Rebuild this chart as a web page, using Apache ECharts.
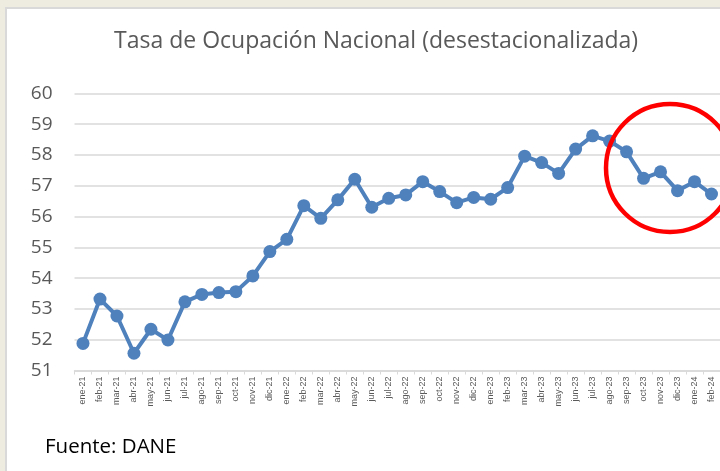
<!DOCTYPE html>
<html>
<head>
<meta charset="utf-8">
<script src="https://cdn.jsdelivr.net/npm/echarts@6/dist/echarts.min.js"></script>
<style>
  body { margin: 0; background: #eeece1; overflow: hidden; }
  #panel { position: absolute; left: 5px; top: 7px; width: 800px; height: 600px;
           background: #fff; border-left: 2px solid #d9d9d9; border-top: 2px solid #d9d9d9; }
  #main { position: absolute; left: 0; top: 0; width: 720px; height: 471px; }
</style>
</head>
<body>
<div id="panel"></div>
<div id="main"></div>
<script>
// meses (ene-21 .. feb-24)
var meses = ['ene-21','feb-21','mar-21','abr-21','may-21','jun-21','jul-21','ago-21','sep-21','oct-21','nov-21','dic-21',
             'ene-22','feb-22','mar-22','abr-22','may-22','jun-22','jul-22','ago-22','sep-22','oct-22','nov-22','dic-22',
             'ene-23','feb-23','mar-23','abr-23','may-23','jun-23','jul-23','ago-23','sep-23','oct-23','nov-23','dic-23',
             'ene-24','feb-24'];
// tasa de ocupacion desestacionalizada (%)
var tasa = [51.88, 53.32, 52.77, 51.56, 52.34, 51.99, 53.23, 53.47, 53.53, 53.56, 54.07, 54.86,
            55.26, 56.35, 55.94, 56.54, 57.21, 56.30, 56.59, 56.70, 57.13, 56.81, 56.45, 56.62,
            56.56, 56.94, 57.96, 57.75, 57.40, 58.19, 58.62, 58.45, 58.10, 57.24, 57.45, 56.84,
            57.13, 56.73];
var yMin = 51, yMax = 60;

var myChart = echarts.init(document.getElementById('main'));

var option = {
    animation: false,
    title: {
        text: 'Tasa de Ocupación Nacional (desestacionalizada)',
        left: 109,
        top: 25,
        textStyle: { fontFamily: 'Open Sans', fontSize: 23, fontWeight: 'normal', color: '#595959' }
    },
    grid: { left: 74.5, right: 0, top: 93.3, bottom: 100.5 },
    xAxis: {
        type: 'category',
        boundaryGap: true,
        data: meses,
        axisLine: { lineStyle: { color: '#d9d9d9', width: 1.5 } },
        axisTick: { show: true, length: 4, lineStyle: { color: '#d9d9d9' } },
        axisLabel: {
            interval: 0, rotate: 90, margin: 6,
            fontFamily: 'Liberation Sans', fontSize: 9, color: '#595959'
        }
    },
    yAxis: {
        type: 'value',
        min: yMin, max: yMax, interval: 1,
        axisLine: { show: false },
        axisTick: { show: false },
        splitLine: { lineStyle: { color: '#d9d9d9', width: 1.5 } },
        axisLabel: { margin: 22, fontFamily: 'Open Sans', fontSize: 19, color: '#595959' }
    },
    series: [{
        name: 'Tasa',
        type: 'line',
        data: tasa,
        symbol: 'circle',
        symbolSize: 13,
        lineStyle: { width: 4, color: '#4f81bd' },
        itemStyle: { color: '#4f81bd' }
    }],
    graphic: [
        {
            type: 'circle',
            shape: { cx: 670, cy: 168, r: 64 },
            style: { fill: 'none', stroke: '#ff0000', lineWidth: 4.5 },
            z: 10
        },
        {
            type: 'text',
            left: 45, top: 437,
            style: { text: 'Fuente: DANE', fontFamily: 'Open Sans', fontSize: 20.5, fill: '#000' }
        }
    ]
};

myChart.setOption(option);
</script>
</body>
</html>
